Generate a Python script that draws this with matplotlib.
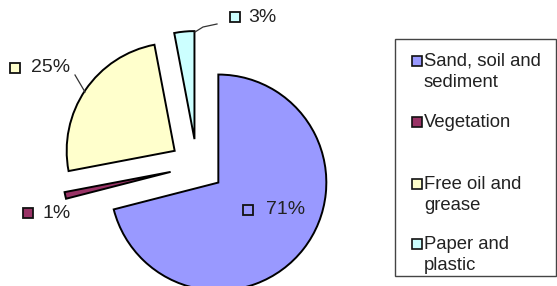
import matplotlib
matplotlib.use('Agg')
import matplotlib.pyplot as plt
from matplotlib.patches import Rectangle

plt.rcParams['font.family'] = ['Liberation Sans', 'DejaVu Sans']

# data
categories = ['Sand, soil and\nsediment', 'Vegetation', 'Free oil and\ngrease', 'Paper and\nplastic']
values = [71, 1, 25, 3]
colors = ['#9999FF', '#993366', '#FFFFCC', '#CCFFFF']

H = 286  # figure height in px, used to flip y (image coords -> axes coords)

fig = plt.figure(figsize=(5.57, 2.86), dpi=100)
ax = fig.add_axes([0, 0, 1, 1])

wedges, _ = ax.pie(values, colors=colors, startangle=90, counterclock=False,
                   center=(197, H - 166), radius=108, explode=[27] * len(values),
                   wedgeprops=dict(edgecolor='black', linewidth=1.4))

ax.set_xlim(0, 557)
ax.set_ylim(0, H)
ax.set_aspect('equal')
ax.axis('off')

# data labels: (square x, square y, text x) in image px
label_pos = [(243, 210, 266), (23, 213, 42), (10, 68, 31), (230, 17, 248)]
for (sx, sy, tx), v, c in zip(label_pos, values, colors):
    ax.add_patch(Rectangle((sx, H - sy - 5), 10, 10, facecolor=c,
                           edgecolor='#111111', linewidth=1.3, zorder=5))
    ax.text(tx, H - sy, f'{v}%', fontsize=14, color='#222222',
            va='center', ha='left', zorder=5)

# leader lines for the small top labels
ax.plot([195, 203, 217], [H - 32, H - 27, H - 24], color='#333333', lw=0.9)
ax.plot([85, 75], [H - 92, H - 75], color='#333333', lw=0.9)

# legend box drawn by hand (Excel-like spacing)
ax.add_patch(Rectangle((395, H - 276), 161, 237, facecolor='white',
                       edgecolor='#444444', linewidth=1.0, zorder=1))
entry_y = [61, 122, 184, 244]
for name, c, ey in zip(categories, colors, entry_y):
    ax.add_patch(Rectangle((412, H - ey - 5), 10, 10, facecolor=c,
                           edgecolor='#111111', linewidth=1.2, zorder=2))
    ax.text(424, H - ey + 8, name, fontsize=13.3, color='#222222',
            va='top', ha='left', linespacing=1.32, zorder=2)

fig.savefig('out.png', dpi=100)
